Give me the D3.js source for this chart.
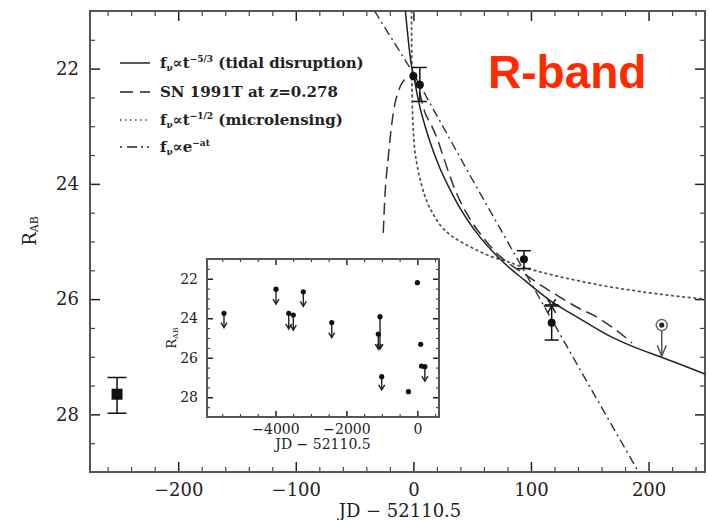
<!DOCTYPE html>
<html><head><meta charset="utf-8">
<script src="https://cdn.jsdelivr.net/npm/d3@7"></script>
<style>body{margin:0;background:#fff} svg{display:block}</style>
</head><body><svg id="c" width="709" height="520"></svg>
<script>
// ---------- data ----------
const xTickLabels = [-200, -100, 0, 100, 200];
const yTickLabels = [22, 24, 26, 28];
const insetXTickLabels = [-4000, -2000, 0];
const insetYTickLabels = [22, 24, 26, 28];

// model curves: [JD-52110.5, R_AB]
const tidalCurve = [[-6.8,21.0],[-5,21.37],[-2,21.9],[0,22.1],[5,22.62],[10,23.0],[20,23.6],[35,24.25],[55,24.88],[75,25.33],[95,25.68],[116,26.02],[140,26.32],[165,26.62],[190,26.85],[210,27.0],[248,27.3]];
const snCurve = [[-25.6,24.85],[-24.2,24.22],[-21.3,23.53],[-18.5,22.98],[-15.6,22.6],[-12.8,22.4],[-10,22.26],[-5,22.17],[0,22.17],[5,22.4],[10,22.77],[15,22.97],[20,23.2],[25,23.5],[30,23.8],[35,24.08],[45,24.5],[60,24.95],[75,25.28],[95,25.57],[110,25.78],[125,25.97],[140,26.15],[155,26.3],[170,26.5],[186,26.76]];
const microCurve = [[-1.6,21.0],[-1.3,22.0],[-0.8,22.7],[0.5,23.25],[3,23.65],[7,24.02],[12,24.33],[17,24.53],[23,24.72],[31,24.88],[40,25.0],[51,25.12],[65,25.25],[80,25.35],[96,25.46],[116,25.57],[140,25.68],[165,25.78],[190,25.86],[220,25.94],[248,26.0]];
const expCurve = [[-33,21.0],[0,22.08],[50,23.92],[100,25.72],[150,27.52],[192,29.02]];

// detections
const detT    = [0, 5.5, 94, 117.6];
const detMag  = [22.13, 22.28, 25.31, 26.41];
const detLo   = [null, 21.98, 25.16, 26.10];
const detHi   = [null, 22.57, 25.47, 26.71];
// pre-outburst (square)
const preT = [-252], preMag = [27.65], preLo = [27.36], preHi = [27.98];
// asterisk
const starT = [117.6], starMag = [26.12];
// circled upper limit
const limT = [211.2], limMag = [26.45], limTo = [26.99];

// inset: long-term light curve
const insT   = [-5451,-3985,-3215,-3627,-3497,-2414,-1053,-1101,-1005,-252,0,94,117.6,211.2];
const insMag = [23.75,22.53,22.66,23.75,23.84,24.22,23.92,24.80,26.96,27.72,22.20,25.32,26.42,26.45];
const insTo  = [24.48,23.28,23.40,24.54,24.60,24.98,25.56,25.56,27.63,null,null,null,null,27.18];

const legendLabels = [
  [["f"],["ν","sub"],["∝t"],["−5/3","sup"],[" (tidal disruption)"]],
  [["SN 1991T at z=0.278"]],
  [["f"],["ν","sub"],["∝t"],["−1/2","sup"],[" (microlensing)"]],
  [["f"],["ν","sub"],["∝e"],["−at","sup"]]
];

// ---------- drawing ----------
const svg = d3.select("#c");
const SERIF = "'DejaVu Serif', serif";
const M = {l:90, r:705, t:11, b:472};
const x = d3.scaleLinear().domain([-275, 248]).range([M.l, M.r]);
const y = d3.scaleLinear().domain([21, 29]).range([M.t, M.b]);

svg.append("defs").append("clipPath").attr("id","clipMain")
  .append("rect").attr("x",M.l).attr("y",M.t).attr("width",M.r-M.l).attr("height",M.b-M.t);

function styleAxis(g, col, w){
  g.select(".domain").remove();
  g.selectAll(".tick line").attr("stroke", col).attr("stroke-width", w);
}
function drawAxes(xs, ys, box, xMaj, xMin, yMaj, yMin, majL, minL, fs, padX, padY){
  const gAx = svg.append("g");
  const fmt = d3.format("d");
  let g = gAx.append("g").attr("transform",`translate(0,${box.b})`)
    .call(d3.axisBottom(xs).tickValues(xMaj).tickSize(-majL).tickPadding(padX).tickFormat(fmt));
  styleAxis(g,"#222",1.5);
  g.selectAll("text").attr("font-family",SERIF).attr("font-size",fs).attr("fill","#222");
  g = gAx.append("g").attr("transform",`translate(0,${box.b})`)
    .call(d3.axisBottom(xs).tickValues(xMin).tickSize(-minL).tickFormat(""));
  styleAxis(g,"#444",1.2);
  g = gAx.append("g").attr("transform",`translate(0,${box.t})`)
    .call(d3.axisTop(xs).tickValues(xMaj).tickSize(-majL).tickFormat(""));
  styleAxis(g,"#222",1.5);
  g = gAx.append("g").attr("transform",`translate(0,${box.t})`)
    .call(d3.axisTop(xs).tickValues(xMin).tickSize(-minL).tickFormat(""));
  styleAxis(g,"#444",1.2);
  g = gAx.append("g").attr("transform",`translate(${box.l},0)`)
    .call(d3.axisLeft(ys).tickValues(yMaj).tickSize(-majL).tickPadding(padY).tickFormat(fmt));
  styleAxis(g,"#222",1.5);
  g.selectAll("text").attr("font-family",SERIF).attr("font-size",fs).attr("fill","#222");
  g = gAx.append("g").attr("transform",`translate(${box.l},0)`)
    .call(d3.axisLeft(ys).tickValues(yMin).tickSize(-minL).tickFormat(""));
  styleAxis(g,"#444",1.2);
  g = gAx.append("g").attr("transform",`translate(${box.r},0)`)
    .call(d3.axisRight(ys).tickValues(yMaj).tickSize(-majL).tickFormat(""));
  styleAxis(g,"#222",1.5);
  g = gAx.append("g").attr("transform",`translate(${box.r},0)`)
    .call(d3.axisRight(ys).tickValues(yMin).tickSize(-minL).tickFormat(""));
  styleAxis(g,"#444",1.2);
  svg.append("rect").attr("x",box.l).attr("y",box.t).attr("width",box.r-box.l).attr("height",box.b-box.t)
    .attr("fill","none").attr("stroke","#555").attr("stroke-width",2);
}

// main axes
const xMinorMain = d3.range(-260, 248, 20).filter(v => v % 100 !== 0);
const yMinorMain = d3.range(21.5, 29, 0.5).filter(v => v % 2 !== 0);
drawAxes(x, y, M, xTickLabels, xMinorMain, yTickLabels, yMinorMain, 10, 5, 18, 11, 11);

// curves
const line = d3.line().x(d => x(d[0])).y(d => y(d[1]));
const gc = svg.append("g").attr("clip-path","url(#clipMain)").attr("fill","none");
gc.append("path").datum(microCurve).attr("d", line.curve(d3.curveMonotoneX))
  .attr("stroke","#555").attr("stroke-width",1.8).attr("stroke-dasharray","1.6 4").attr("stroke-linecap","round");
gc.append("path").datum(expCurve).attr("d", line.curve(d3.curveLinear))
  .attr("stroke","#333").attr("stroke-width",1.4).attr("stroke-dasharray","9 4 2 4");
gc.append("path").datum(snCurve).attr("d", line.curve(d3.curveMonotoneX))
  .attr("stroke","#333").attr("stroke-width",1.5).attr("stroke-dasharray","12 6");
gc.append("path").datum(tidalCurve).attr("d", line.curve(d3.curveMonotoneX))
  .attr("stroke","#222").attr("stroke-width",1.5);

function errBar(g, cx, lo, hi, cap){
  g.append("line").attr("x1",cx).attr("x2",cx).attr("y1",lo).attr("y2",hi);
  g.append("line").attr("x1",cx-cap/2).attr("x2",cx+cap/2).attr("y1",lo).attr("y2",lo);
  g.append("line").attr("x1",cx-cap/2).attr("x2",cx+cap/2).attr("y1",hi).attr("y2",hi);
}
const gp = svg.append("g").attr("stroke","#111").attr("stroke-width",1.5);
detT.forEach((t,i) => {
  if (detLo[i] !== null) errBar(gp, x(t), y(detLo[i]), y(detHi[i]), 14);
});
detT.forEach((t,i) => {
  gp.append("circle").attr("cx",x(t)).attr("cy",y(detMag[i])).attr("r",4).attr("fill","#111").attr("stroke","none");
});
preT.forEach((t,i) => {
  errBar(gp, x(t), y(preLo[i]), y(preHi[i]), 19);
  gp.append("rect").attr("x",x(t)-5.5).attr("y",y(preMag[i])-5.5).attr("width",11).attr("height",11)
    .attr("fill","#111").attr("stroke","none");
});
starT.forEach((t,i) => {
  const cx = x(t), cy = y(starMag[i]), r = 8;
  [0,60,120].forEach(a => {
    const rad = a*Math.PI/180;
    gp.append("line").attr("x1",cx-r*Math.cos(rad)).attr("y1",cy-r*Math.sin(rad))
      .attr("x2",cx+r*Math.cos(rad)).attr("y2",cy+r*Math.sin(rad)).attr("stroke","#222").attr("stroke-width",1.6);
  });
});
limT.forEach((t,i) => {
  const cx = x(t), cy = y(limMag[i]), ye = y(limTo[i]);
  gp.append("line").attr("x1",cx).attr("x2",cx).attr("y1",cy+5).attr("y2",ye).attr("stroke","#555");
  gp.append("path").attr("d",`M${cx-4.5},${ye-11}L${cx},${ye}L${cx+4.5},${ye-11}`).attr("fill","none").attr("stroke","#555");
  gp.append("circle").attr("cx",cx).attr("cy",cy).attr("r",5.5).attr("fill","#fff").attr("stroke","#666").attr("stroke-width",1.5);
  gp.append("circle").attr("cx",cx).attr("cy",cy).attr("r",2.6).attr("fill","#222").attr("stroke","none");
});

// legend
const legRowY = [63, 92, 120, 147];
const legStyles = [
  {dash:null, col:"#222", w:1.5},
  {dash:"13 7", col:"#222", w:1.5},
  {dash:"1.5 3.5", col:"#444", w:1.6},
  {dash:"2 5 10 4 2 4 2 30", col:"#222", w:1.5}
];
const gl = svg.append("g");
legendLabels.forEach((parts,i) => {
  const s = legStyles[i];
  gl.append("line").attr("x1",120).attr("x2",150).attr("y1",legRowY[i]).attr("y2",legRowY[i])
    .attr("stroke",s.col).attr("stroke-width",s.w).attr("stroke-dasharray",s.dash);
  const t = gl.append("text").attr("x",160).attr("y",legRowY[i]+5)
    .attr("font-family",SERIF).attr("font-size",15).attr("font-weight","bold").attr("fill","#222");
  let shift = 0;
  parts.forEach(p => {
    const ts = t.append("tspan").text(p[0]);
    if (p[1] === "sub") { ts.attr("font-size",9).attr("dy", 3 - shift); shift = 3; }
    else if (p[1] === "sup") { ts.attr("font-size",9).attr("dy", -6 - shift); shift = -6; }
    else { ts.attr("dy", -shift); shift = 0; }
  });
});

// R-band title
svg.append("text").attr("x",488).attr("y",88).text("R-band")
  .attr("font-family","'Liberation Sans', Arial, sans-serif").attr("font-weight","bold")
  .attr("font-size",46).attr("fill","#ff2a00");

// axis titles
svg.append("text").attr("x",400).attr("y",517).attr("text-anchor","middle")
  .attr("font-family",SERIF).attr("font-size",18).attr("fill","#222").text("JD − 52110.5");
const yl = svg.append("text").attr("transform","translate(36,231) rotate(-90)").attr("text-anchor","middle")
  .attr("font-family",SERIF).attr("font-size",18).attr("fill","#222");
yl.append("tspan").text("R");
yl.append("tspan").attr("font-size",11).attr("dy",2).text("AB");

// ---------- inset ----------
const IB = {l:207, r:439, t:259, b:417};
svg.append("rect").attr("x",IB.l).attr("y",IB.t).attr("width",IB.r-IB.l).attr("height",IB.b-IB.t).attr("fill","#fff");
const xi = d3.scaleLinear().domain([-5930, 610]).range([IB.l, IB.r]);
const yi = d3.scaleLinear().domain([21, 29]).range([IB.t, IB.b]);
const xMinorIns = d3.range(-5500, 610, 500).filter(v => v % 2000 !== 0);
const yMinorIns = d3.range(21.5, 29, 0.5).filter(v => v % 2 !== 0);
drawAxes(xi, yi, IB, insetXTickLabels, xMinorIns, insetYTickLabels, yMinorIns, 6, 3, 14, 7, 9);

const gi = svg.append("g").attr("stroke","#222").attr("stroke-width",1.4);
insT.forEach((t,i) => {
  const cx = xi(t), cy = yi(insMag[i]);
  if (insTo[i] !== null) {
    const ye = yi(insTo[i]);
    gi.append("line").attr("x1",cx).attr("x2",cx).attr("y1",cy).attr("y2",ye);
    gi.append("path").attr("d",`M${cx-3},${ye-5}L${cx},${ye}L${cx+3},${ye-5}`).attr("fill","none");
  }
  gi.append("circle").attr("cx",cx).attr("cy",cy).attr("r",2.6).attr("fill","#111").attr("stroke","none");
});
svg.append("text").attr("x",323).attr("y",449).attr("text-anchor","middle")
  .attr("font-family",SERIF).attr("font-size",14).attr("fill","#222").text("JD − 52110.5");
const yli = svg.append("text").attr("transform","translate(176,338) rotate(-90)").attr("text-anchor","middle")
  .attr("font-family",SERIF).attr("font-size",13).attr("fill","#222");
yli.append("tspan").text("R");
yli.append("tspan").attr("font-size",8).attr("dy",2).text("AB");
</script>
</body></html>
